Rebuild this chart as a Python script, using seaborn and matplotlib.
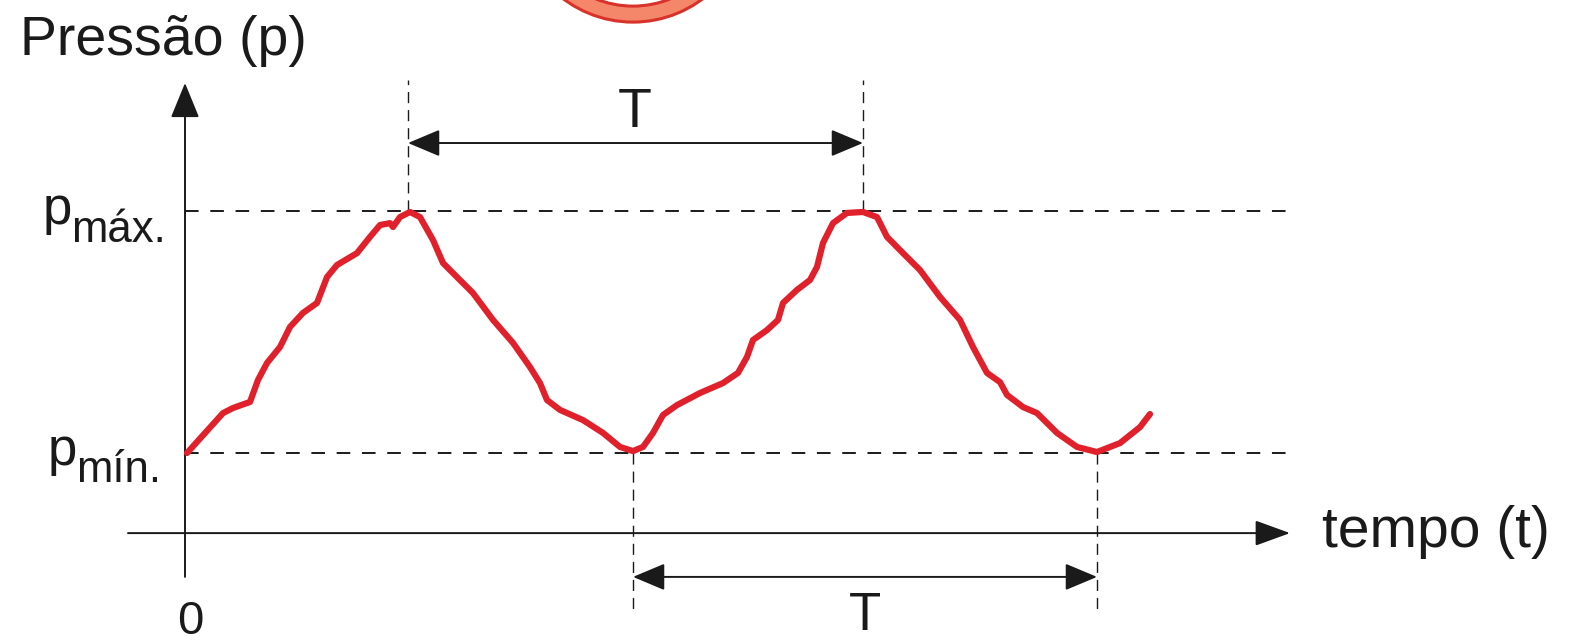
import matplotlib
matplotlib.use("Agg")
import matplotlib.pyplot as plt
from matplotlib.patches import Ellipse
import seaborn as sns
import pandas as pd

# ---- data (time in arbitrary units, pressure in % of range pmin..pmax) ----
tempo = [0.2, 3.8, 4.8, 6.5, 7.3, 8.2, 9.5, 10.5, 11.8, 13.2, 14.2, 15.2, 17.2, 18.5,
         19.5, 20.5, 20.8, 21.5, 22.5, 23.5, 24.8, 25.8, 27.2, 28.8, 30.8, 32.8, 34.5,
         35.5, 36.2, 37.5, 39.8, 41.8, 43.5, 44.8, 45.8, 46.8, 47.8, 49.2, 51.5, 53.8,
         55.3, 56.2, 56.8, 58.2, 59.3, 59.8, 61.2, 62.5, 63.2, 63.8, 64.8, 66.2, 67.8,
         69.2, 70.2, 71.8, 73.5, 75.5, 77.5, 78.8, 80.2, 81.5, 82.2, 83.8, 85.2, 87.2,
         89.2, 91.2, 93.5, 95.5, 96.5]
pressao = [0.0, 16.5, 18.6, 21.1, 30.2, 37.2, 43.8, 52.1, 57.9, 62.0, 72.7, 77.7, 82.6,
           89.3, 94.2, 95.0, 93.4, 97.5, 99.6, 97.5, 88.0, 78.5, 72.7, 66.1, 55.0, 45.5,
           35.5, 28.9, 21.9, 17.8, 13.6, 8.3, 2.5, 0.8, 2.5, 8.3, 15.7, 19.8, 24.8, 28.9,
           33.1, 39.7, 46.7, 50.8, 55.0, 62.0, 67.4, 71.5, 76.9, 86.8, 95.0, 99.2, 99.6,
           97.5, 89.3, 82.6, 75.6, 64.5, 55.0, 43.8, 33.1, 29.3, 24.0, 19.0, 16.5, 8.3,
           2.5, 0.4, 4.1, 10.7, 16.1]

p_max = 100.0
p_min = 0.0
picos = [22.3, 67.8]      # times of the maxima
vales = [44.8, 91.2]      # times of the minima

titulo_y = "Pressão (p)"
titulo_x = "tempo (t)"
rot_max = ("p", "máx.")
rot_min = ("p", "mín.")
rot_zero = "0"
rot_periodo = "T"

# ---- figure ----
sns.set_style("white")
plt.rcParams["font.family"] = ["Liberation Sans", "DejaVu Sans"]

fig = plt.figure(figsize=(15.73, 6.42), dpi=100)
ax = fig.add_axes([0, 0, 1, 1])

black = "#1a1a1a"
red = "#E0212B"

# decorative ring at the top (cut off)
ax.add_patch(Ellipse((44.8, 226.0), 2 * 11.6, 2 * 116 / 2.42, facecolor="#F4876A",
                     edgecolor="#D8322A", lw=2.2, zorder=1))
ax.add_patch(Ellipse((44.8, 226.0), 2 * 10.0, 2 * 100 / 2.42, facecolor="white",
                     edgecolor="#D8322A", lw=2.2, zorder=1))

# axes with arrows
ax.annotate("", xy=(0, 152.9), xytext=(0, -51.2),
            arrowprops=dict(arrowstyle="-|>,head_length=1.1,head_width=0.45",
                            mutation_scale=20, lw=1.4, color=black,
                            shrinkA=0, shrinkB=0))
ax.annotate("", xy=(110.5, -33.1), xytext=(-5.7, -33.1),
            arrowprops=dict(arrowstyle="-|>,head_length=1.1,head_width=0.4",
                            mutation_scale=20, lw=1.4, color=black,
                            shrinkA=0, shrinkB=0))

# horizontal dashed reference lines
for pv in (p_max, p_min):
    ax.plot([0, 110.8], [pv, pv], color=black, lw=1.4, dashes=(7, 6), zorder=2)

# vertical dashed lines
for tv in picos:
    ax.plot([tv, tv], [p_max, 154], color=black, lw=1.0, dashes=(8, 5), zorder=2)
for tv in vales:
    ax.plot([tv, tv], [p_min, -67], color=black, lw=1.0, dashes=(8, 5), zorder=2)

# period arrows
for (a, b), yv in (((picos[0], picos[1]), 128.1), ((vales[0], vales[1]), -51.2)):
    ax.annotate("", xy=(b, yv), xytext=(a, yv),
                arrowprops=dict(arrowstyle="<|-|>,head_length=1.0,head_width=0.42",
                                mutation_scale=20, lw=1.4, color=black,
                                shrinkA=0, shrinkB=0))

# pressure curve
df = pd.DataFrame({"t": tempo, "p": pressao})
sns.lineplot(data=df, x="t", y="p", ax=ax, color=red, lw=4.5, sort=False,
             estimator=None, zorder=3,
             solid_capstyle="round", solid_joinstyle="round")
ax.set_xlim(-18.5, 138.8)
ax.set_ylim(-78.1, 187.2)
ax.axis("off")

# texts
ax.text(-16.5, 164.5, titulo_y, fontsize=40, color=black, ha="left", va="baseline")
ax.text(113.7, -39.0, titulo_x, fontsize=41, color=black, ha="left", va="baseline")
ax.text(-14.2, 94.6, rot_max[0], fontsize=38, color=black, ha="left", va="baseline")
ax.text(-11.4, 87.2, rot_max[1], fontsize=31.5, color=black, ha="left", va="baseline")
ax.text(-13.7, -5.0, rot_min[0], fontsize=38, color=black, ha="left", va="baseline")
ax.text(-10.9, -12.0, rot_min[1], fontsize=31.5, color=black, ha="left", va="baseline")
ax.text(0.5, -74.8, rot_zero, fontsize=34, color=black, ha="center", va="baseline")
ax.text(45.0, 134.7, rot_periodo, fontsize=40, color=black, ha="center", va="baseline")
ax.text(68.0, -77.6, rot_periodo, fontsize=38, color=black, ha="center", va="bottom")

fig.savefig("out.png", dpi=100, facecolor="white")
